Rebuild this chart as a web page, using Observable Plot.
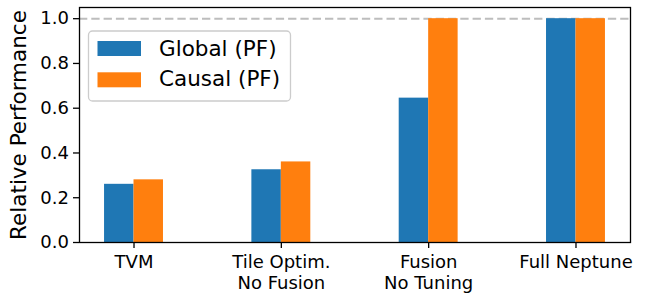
<!DOCTYPE html>
<html><head><meta charset="utf-8">
<script src="https://cdn.jsdelivr.net/npm/d3@7"></script>
<script src="https://cdn.jsdelivr.net/npm/@observablehq/plot@0.6"></script>
<style>body{margin:0;background:#fff} svg{font-family:"DejaVu Sans"}</style>
</head><body><div id="chart"></div>
<script>
const categories = ["TVM", "Tile Optim.\nNo Fusion", "Fusion\nNo Tuning", "Full Neptune"];
const series = ["Global (PF)", "Causal (PF)"];
const globalPF = [0.26, 0.325, 0.645, 1.0];
const causalPF = [0.28, 0.36, 1.0, 1.0];
const colors = ["#1f77b4", "#ff7f0e"];
const yTicks = [0, 0.2, 0.4, 0.6, 0.8, 1.0];
const refLine = [1.0];
const yLabel = "Relative Performance";

const barW = 0.2;
const gRows = categories.map((c, i) => ({i, v: globalPF[i]}));
const cRows = categories.map((c, i) => ({i, v: causalPF[i]}));

const svg = Plot.plot({
  width: 646, height: 293,
  marginLeft: 79, marginRight: 16, marginTop: 7, marginBottom: 51,
  style: {fontFamily: "DejaVu Sans", background: "white", color: "black"},
  x: {type: "linear", domain: [-0.37, 3.37]},
  y: {domain: [0, 1.05]},
  marks: [
    Plot.ruleY(refLine, {stroke: "#bdbdbd", strokeWidth: 2, strokeDasharray: "8.3,4"}),
    Plot.rectY(gRows, {x1: d => d.i - barW, x2: d => d.i, y1: 0, y2: "v", fill: colors[0]}),
    Plot.rectY(cRows, {x1: d => d.i, x2: d => d.i + barW, y1: 0, y2: "v", fill: colors[1]}),
    Plot.axisY({ticks: yTicks, tickFormat: ".1f", fontSize: 18, tickSize: 6, tickPadding: 4.5, strokeWidth: 1.3, label: null}),
    Plot.axisX({ticks: categories.map((c, i) => i), tickFormat: i => categories[i], fontSize: 18, tickSize: 6, tickPadding: 5, lineHeight: 1.15, strokeWidth: 1.3, label: null}),
    Plot.frame({stroke: "black", strokeWidth: 1.3}),
    Plot.text([yLabel], {frameAnchor: "left", rotate: -90, dx: -54, lineAnchor: "bottom", textAnchor: "middle", fontSize: 21.5, fill: "black"})
  ]
});
document.getElementById("chart").appendChild(svg);

const lg = d3.select(svg).append("g").attr("text-anchor", "start");
lg.append("rect").attr("x", 88.5).attr("y", 31).attr("width", 202).attr("height", 70)
  .attr("rx", 4).attr("fill", "white").attr("fill-opacity", 0.8)
  .attr("stroke", "#cccccc").attr("stroke-width", 1.3);
series.forEach((s, k) => {
  lg.append("rect").attr("x", 97.5).attr("y", 41 + k * 31.3).attr("width", 43.5).attr("height", 15).attr("fill", colors[k]);
  lg.append("text").attr("x", 159).attr("y", 56 + k * 30).attr("font-size", 21.5)
    .attr("text-anchor", "start").attr("font-family", "DejaVu Sans").attr("fill", "black").text(s);
});
</script></body></html>
